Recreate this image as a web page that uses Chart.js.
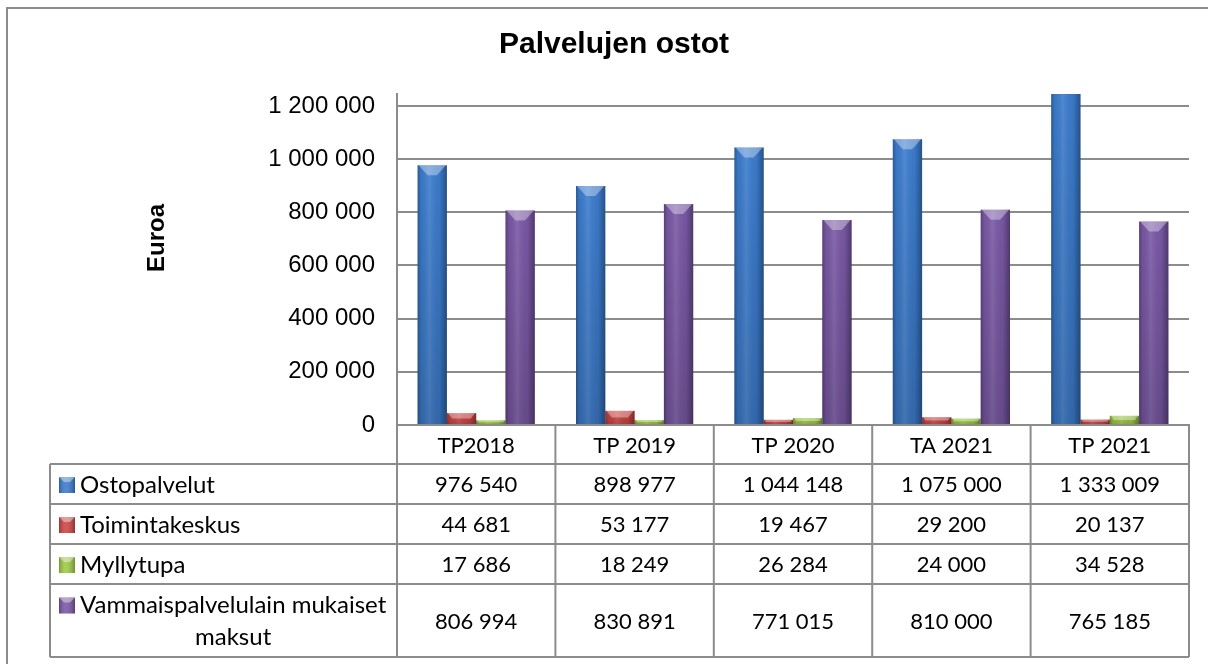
<!DOCTYPE html>
<html>
<head>
<meta charset="utf-8">
<title>Palvelujen ostot</title>
<script src="https://cdn.jsdelivr.net/npm/chart.js@4"></script>
<style>
  html, body { margin: 0; padding: 0; background: #fff; }
</style>
</head>
<body>
<canvas id="myChart" width="1208" height="664"></canvas>
<script>
const categories = ["TP2018", "TP 2019", "TP 2020", "TA 2021", "TP 2021"];
const seriesNames = ["Ostopalvelut", "Toimintakeskus", "Myllytupa", "Vammaispalvelulain mukaiset maksut"];

const ostopalvelut = [976540, 898977, 1044148, 1075000, 1333009];
const toimintakeskus = [44681, 53177, 19467, 29200, 20137];
const myllytupa = [17686, 18249, 26284, 24000, 34528];
const vammaispalvelut = [806994, 830891, 771015, 810000, 765185];

const yTicks = [0, 200000, 400000, 600000, 800000, 1000000, 1200000];
const yMax = 1245000;

const colors = ["#3c7dcf", "#d04646", "#a0cc44", "#7b59a7"];
const lineGray = "#8c8c8c";
const valueFont = "22px Lato";
const nameFont = "24px Lato";

// 976540 -> "976 540"
const fmt = (v) => String(v).replace(/\B(?=(\d{3})+(?!\d))/g, " ");

// white page + the outer frame of the original picture
const frame = {
    id: "frame",
    beforeDraw(chart) {
        const ctx = chart.ctx;
        ctx.save();
        ctx.fillStyle = "#fff";
        ctx.fillRect(0, 0, chart.width, chart.height);
        ctx.strokeStyle = lineGray;
        ctx.lineWidth = 2;
        ctx.beginPath();
        ctx.moveTo(7, chart.height + 5);
        ctx.lineTo(7, 8);
        ctx.lineTo(chart.width + 5, 8);
        ctx.stroke();
        ctx.restore();
    }
};

// fake 3D look on top of the bars
const barShading = {
    id: "barShading",
    afterDatasetsDraw(chart) {
        const { ctx, chartArea } = chart;
        ctx.save();
        ctx.beginPath();
        ctx.rect(chartArea.left, chartArea.top, chartArea.right - chartArea.left, chartArea.bottom - chartArea.top);
        ctx.clip();
        chart.data.datasets.forEach((ds, i) => {
            chart.getDatasetMeta(i).data.forEach((bar) => {
                const left = bar.x - bar.width / 2;
                const right = bar.x + bar.width / 2;
                const top = bar.y;
                const h = bar.base - bar.y;
                if (h <= 0) return;

                const g = ctx.createLinearGradient(left, 0, right, 0);
                g.addColorStop(0, "rgba(0,0,0,0.28)");
                g.addColorStop(0.12, "rgba(0,0,0,0.05)");
                g.addColorStop(0.4, "rgba(255,255,255,0.10)");
                g.addColorStop(0.75, "rgba(0,0,0,0.04)");
                g.addColorStop(1, "rgba(0,0,0,0.35)");
                ctx.fillStyle = g;
                ctx.fillRect(left, top, bar.width, h);

                const v = ctx.createLinearGradient(0, top, 0, bar.base);
                v.addColorStop(0, "rgba(0,0,0,0)");
                v.addColorStop(1, "rgba(0,0,0,0.15)");
                ctx.fillStyle = v;
                ctx.fillRect(left, top, bar.width, h);

                const bev = Math.min(10, h / 2);
                ctx.beginPath();
                ctx.moveTo(left + 1, top);
                ctx.lineTo(right - 1, top);
                ctx.lineTo(right - bev, top + bev);
                ctx.lineTo(left + bev, top + bev);
                ctx.closePath();
                ctx.fillStyle = "rgba(255,255,255,0.35)";
                ctx.fill();
            });
        });
        ctx.restore();
    }
};

const drawMarker = (ctx, x, y, s, color) => {
    ctx.fillStyle = color;
    ctx.fillRect(x, y, s, s);
    const g = ctx.createLinearGradient(x, 0, x + s, 0);
    g.addColorStop(0, "rgba(0,0,0,0.25)");
    g.addColorStop(0.4, "rgba(255,255,255,0.1)");
    g.addColorStop(1, "rgba(0,0,0,0.3)");
    ctx.fillStyle = g;
    ctx.fillRect(x, y, s, s);
    ctx.beginPath();
    ctx.moveTo(x, y);
    ctx.lineTo(x + s, y);
    ctx.lineTo(x + s - 5, y + 5);
    ctx.lineTo(x + 5, y + 5);
    ctx.closePath();
    ctx.fillStyle = "rgba(255,255,255,0.4)";
    ctx.fill();
};

// data table under the plot + rotated axis title
const dataTable = {
    id: "dataTable",
    afterDraw(chart) {
        const { ctx, chartArea } = chart;
        const xScale = chart.scales.x;
        const left = chartArea.left;
        const right = chartArea.right;
        const top = chartArea.bottom;
        const tableLeft = 50;
        const rowHeights = [39, 40, 40, 40, 73];
        const rows = [ostopalvelut, toimintakeskus, myllytupa, vammaispalvelut];

        const ys = [top];
        rowHeights.forEach((h) => ys.push(ys[ys.length - 1] + h));
        const bottom = ys[ys.length - 1];
        const colW = (right - left) / categories.length;

        ctx.save();
        ctx.strokeStyle = lineGray;
        ctx.lineWidth = 2;

        ys.forEach((yy, i) => {
            ctx.beginPath();
            ctx.moveTo(i === 0 ? left : tableLeft, yy);
            ctx.lineTo(right, yy);
            ctx.stroke();
        });
        for (let i = 0; i <= categories.length; i++) {
            ctx.beginPath();
            ctx.moveTo(left + i * colW, top);
            ctx.lineTo(left + i * colW, bottom);
            ctx.stroke();
        }
        ctx.beginPath();
        ctx.moveTo(tableLeft, ys[1]);
        ctx.lineTo(tableLeft, bottom);
        ctx.stroke();

        ctx.fillStyle = "#000";
        ctx.textAlign = "center";
        ctx.textBaseline = "middle";

        ctx.font = valueFont;
        categories.forEach((c, i) => {
            ctx.fillText(c, xScale.getPixelForValue(i), (ys[0] + ys[1]) / 2 + 1);
        });

        rows.forEach((values, r) => {
            const cy = (ys[r + 1] + ys[r + 2]) / 2 + 1;
            ctx.font = valueFont;
            ctx.textAlign = "center";
            values.forEach((v, i) => {
                ctx.fillText(fmt(v), xScale.getPixelForValue(i), cy);
            });

            // series name with marker, wrapped when too long
            ctx.font = nameFont;
            const textX = tableLeft + 30;
            const maxW = left - textX - 2;
            const words = seriesNames[r].split(" ");
            const lines = [];
            let line = "";
            words.forEach((w) => {
                const test = line ? line + " " + w : w;
                if (ctx.measureText(test).width > maxW && line) {
                    lines.push(line);
                    line = w;
                } else {
                    line = test;
                }
            });
            lines.push(line);

            const lh = 32;
            const firstY = cy - (lines.length - 1) * lh / 2;
            drawMarker(ctx, tableLeft + 9, firstY - 8, 16, colors[r]);
            ctx.fillStyle = "#000";
            const w1 = ctx.measureText(lines[0]).width;
            lines.forEach((l, k) => {
                if (k === 0) {
                    ctx.textAlign = "left";
                    ctx.fillText(l, textX, firstY);
                } else {
                    ctx.textAlign = "center";
                    ctx.fillText(l, textX + w1 / 2, firstY + k * lh);
                }
            });
        });

        // y axis title
        ctx.save();
        ctx.translate(157, 238);
        ctx.rotate(-Math.PI / 2);
        ctx.textAlign = "center";
        ctx.font = "bold 24px 'Liberation Sans'";
        ctx.fillText("Euroa", 0, 0);
        ctx.restore();

        ctx.restore();
    }
};

const myChart = new Chart(document.getElementById("myChart"), {
    type: "bar",
    data: {
        labels: categories,
        datasets: [
            { label: seriesNames[0], data: ostopalvelut, backgroundColor: colors[0] },
            { label: seriesNames[1], data: toimintakeskus, backgroundColor: colors[1] },
            { label: seriesNames[2], data: myllytupa, backgroundColor: colors[2] },
            { label: seriesNames[3], data: vammaispalvelut, backgroundColor: colors[3] }
        ]
    },
    options: {
        responsive: false,
        animation: false,
        devicePixelRatio: 1,
        layout: { padding: { left: 20, right: 0, top: 0, bottom: 0 } },
        datasets: { bar: { categoryPercentage: 0.74, barPercentage: 1.0 } },
        plugins: {
            legend: { display: false },
            tooltip: { enabled: false },
            title: {
                display: true,
                text: "Palvelujen ostot",
                color: "#000",
                font: { family: "'Liberation Sans'", size: 30, weight: "bold" },
                padding: { top: 27, bottom: 31 }
            }
        },
        scales: {
            x: {
                ticks: { display: false },
                grid: { display: false },
                border: { display: true, color: lineGray, width: 2 },
                afterFit: (s) => { s.height = 239; }
            },
            y: {
                min: 0,
                max: yMax,
                afterBuildTicks: (s) => { s.ticks = yTicks.map((v) => ({ value: v })); },
                ticks: {
                    callback: (v) => fmt(v),
                    color: "#000",
                    font: { family: "'Liberation Sans'", size: 24 },
                    padding: 22
                },
                grid: { color: lineGray, lineWidth: 2, drawTicks: false },
                border: { color: lineGray, width: 2 },
                afterFit: (s) => { s.width = 377; }
            },
            y2: {
                position: "right",
                min: 0,
                max: 1,
                ticks: { display: false },
                grid: { display: false },
                border: { display: false },
                afterFit: (s) => { s.width = 19; }
            }
        }
    },
    plugins: [frame, barShading, dataTable]
});
</script>
</body>
</html>
